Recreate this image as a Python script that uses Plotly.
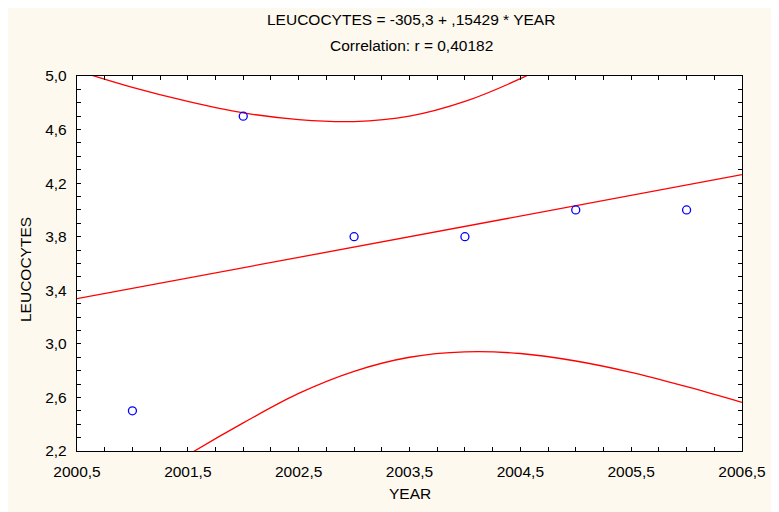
import plotly.graph_objects as go

# ---- data ----
years = [2001, 2002, 2003, 2004, 2005, 2006]
leucocytes = [2.5, 4.7, 3.8, 3.8, 4.0, 4.0]

# fitted regression line (ends, matches -305,3 + ,15429*YEAR)
fit_x = [2000.5, 2006.5]
fit_y = [3.337, 4.263]

# 95% confidence band curves
upper_x = [2000.5, 2001.0, 2001.5, 2002.0, 2002.5, 2003.0, 2003.5, 2004.0, 2004.5, 2005.0]
upper_y = [5.04, 4.915, 4.81, 4.725, 4.675, 4.66, 4.70, 4.81, 4.98, 5.19]
lower_x = [2001.0, 2001.5, 2002.0, 2002.5, 2003.0, 2003.5, 2004.0, 2004.5, 2005.0, 2005.5, 2006.0, 2006.5]
lower_y = [1.91, 2.17, 2.41, 2.63, 2.795, 2.90, 2.94, 2.928, 2.872, 2.787, 2.68, 2.563]

x_tickvals = [2000.5, 2001.5, 2002.5, 2003.5, 2004.5, 2005.5, 2006.5]
x_ticktext = ["2000,5", "2001,5", "2002,5", "2003,5", "2004,5", "2005,5", "2006,5"]
y_tickvals = [2.2, 2.6, 3.0, 3.4, 3.8, 4.2, 4.6, 5.0]
y_ticktext = ["2,2", "2,6", "3,0", "3,4", "3,8", "4,2", "4,6", "5,0"]

title_line1 = "LEUCOCYTES = -305,3 + ,15429 * YEAR"
title_line2 = "Correlation: r = 0,40182"
x_title = "YEAR"
y_title = "LEUCOCYTES"

# page body has an 8px margin; the figure is sized to fit inside the window
OFF = 8
W, H = 779 - OFF, 512 - OFF
ml, mt = 77 - OFF, 76 - OFF
mr = W - (742 - OFF)
mb = H - (451 - OFF)
pw = W - ml - mr
ph = H - mt - mb


def px_x(p):  # reference pixel -> paper x
    return (p - OFF - ml) / pw


def px_y(p):  # reference pixel -> paper y
    return (H - mb - (p - OFF)) / ph


fig = go.Figure()
line_style = dict(color="#ff0000", width=1.3)
fig.add_trace(go.Scatter(x=fit_x, y=fit_y, mode="lines", line=line_style, hoverinfo="skip"))
fig.add_trace(go.Scatter(x=upper_x, y=upper_y, mode="lines",
                         line=dict(shape="spline", smoothing=1.0, **line_style), hoverinfo="skip"))
fig.add_trace(go.Scatter(x=lower_x, y=lower_y, mode="lines",
                         line=dict(shape="spline", smoothing=1.0, **line_style), hoverinfo="skip"))
fig.add_trace(go.Scatter(
    x=years, y=leucocytes, mode="markers",
    marker=dict(symbol="circle-open", size=8, color="#0000ff", line=dict(width=1.3, color="#0000ff")),
    cliponaxis=False,
))

FS = 15.5
font = dict(family="Liberation Sans, Arial, sans-serif", size=FS, color="#000000")

axis_common = dict(
    showgrid=False, zeroline=False, showline=True, linecolor="#000000", linewidth=1.4,
    ticks="inside", ticklen=4, tickwidth=1, tickcolor="#000000", mirror="allticks",
    tickfont=font, ticklabelstandoff=6,
)

fig.update_xaxes(
    range=[2000.5, 2006.5], tickmode="array", tickvals=x_tickvals, ticktext=x_ticktext,
    minor=dict(dtick=0.25, tick0=2000.5, ticks="inside", ticklen=4, tickcolor="#000000"),
    **axis_common,
)
fig.update_yaxes(
    range=[2.2, 5.0], tickmode="array", tickvals=y_tickvals, ticktext=y_ticktext,
    minor=dict(dtick=0.1, tick0=2.2, ticks="inside", ticklen=4, tickcolor="#000000"),
    **axis_common,
)

fig.update_layout(
    width=W, height=H,
    margin=dict(l=ml, r=mr, t=mt, b=mb, pad=0),
    paper_bgcolor="#fdf9ef",
    plot_bgcolor="#ffffff",
    showlegend=False,
    font=font,
    annotations=[
        dict(text=title_line1, xref="paper", yref="paper", x=px_x(411), y=px_y(19), showarrow=False,
             xanchor="center", yanchor="middle", font=font),
        dict(text=title_line2, xref="paper", yref="paper", x=px_x(411), y=px_y(46), showarrow=False,
             xanchor="center", yanchor="middle", font=font),
        dict(text=x_title, xref="paper", yref="paper", x=px_x(410), y=px_y(493), showarrow=False,
             xanchor="center", yanchor="middle", font=font),
        dict(text=y_title, xref="paper", yref="paper", x=px_x(25), y=px_y(270), showarrow=False,
             xanchor="center", yanchor="middle", textangle=-90, font=font),
    ],
)

fig.write_html("out.html")
